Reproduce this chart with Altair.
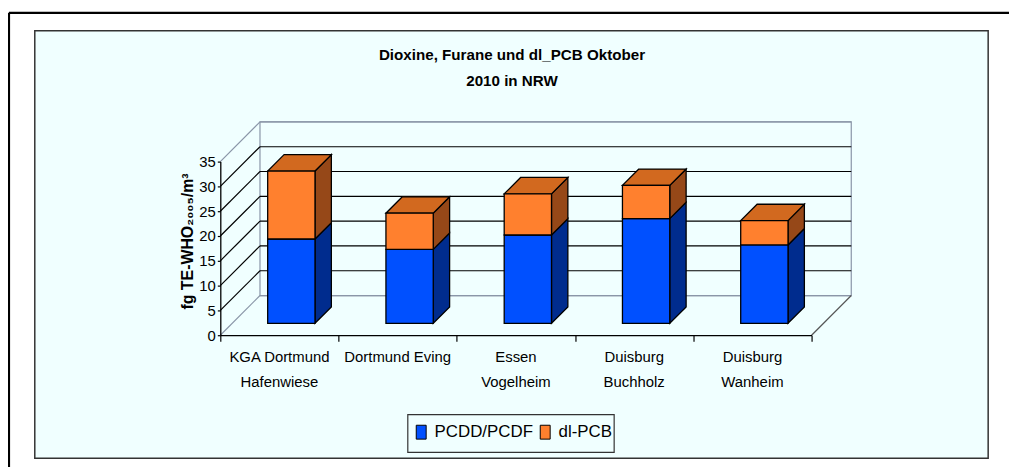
import altair as alt
import pandas as pd

# ---------------- data ----------------
stations = ["KGA Dortmund\nHafenwiese", "Dortmund Eving", "Essen\nVogelheim",
            "Duisburg\nBuchholz", "Duisburg\nWanheim"]
pcdd = [17.0, 14.9, 17.8, 21.1, 15.8]
dlpcb = [13.7, 7.3, 8.3, 6.7, 4.9]
series = ["PCDD/PCDF", "dl-PCB"]
y_ticks = [0, 5, 10, 15, 20, 25, 30, 35]
title_text = "Dioxine, Furane und dl_PCB Oktober\n2010 in NRW"
y_title = "fg TE-WHO\u2082\u2080\u2080\u2085/m\u00b3"

# ---------------- styling ----------------
front_colors = ["#0050FF", "#FF802E"]
side_colors = ["#002C8E", "#964818"]
top_colors = ["#0040C8", "#D2691F"]
BG = "#F0FFFF"
WALLGRAY = "#8A96A8"
FONT = "Liberation Sans"
PX_X = 119.2     # px per category
PX_Y = 5.0       # px per value unit
WALL = 40.0      # depth of the 3D box (px)
D1, D2 = 12.0, 28.5   # bar front / back depth (px)
BAR_W = 0.4
N = len(stations)
ymax = y_ticks[-1]

xs = alt.Scale(domain=[0, N], range=[214, 810], nice=False, zero=False)
ys = alt.Scale(domain=[0, ymax], range=[328, 153], nice=False, zero=False)
wx = WALL / PX_X
wy = WALL / PX_Y

AX_X = alt.Axis(title=None, labels=False, values=list(range(N + 1)), tickSize=6,
                tickColor="black", domainColor="black", domainWidth=1.3, tickWidth=1.2,
                grid=False, offset=-131, zindex=1)
AX_Y = alt.Axis(title=y_title, values=y_ticks, tickSize=3, tickColor="black",
                domainColor="black", domainWidth=1.3, tickWidth=1.2, grid=False,
                offset=-214, labelFont=FONT, labelFontSize=15, labelColor="black",
                labelPadding=2, titleFont=FONT, titleFontSize=16, titleFontWeight="bold",
                titleColor="black", titlePadding=3, titleY=233, zindex=1)


def X(f):
    return alt.X(f, scale=xs, axis=AX_X)


def Y(f):
    return alt.Y(f, scale=ys, axis=AX_Y)


# ---------------- derived tables ----------------
front_rows, side_rows, top_rows = [], [], []
for i, st in enumerate(stations):
    vals = [pcdd[i], dlpcb[i]]
    base = 0.0
    left = i + 0.5 - BAR_W / 2
    right = i + 0.5 + BAR_W / 2
    for k, s in enumerate(series):
        top = base + vals[k]
        front_rows.append(dict(series=s, x=left + D1 / PX_X, x2=right + D1 / PX_X,
                               y=base + D1 / PX_Y, y2=top + D1 / PX_Y))
        for d in (D1, D2):
            side_rows.append(dict(id=f"{i}-{k}", fill=side_colors[k],
                                  x=right + d / PX_X, y=base + d / PX_Y, y2=top + d / PX_Y))
        if k == len(series) - 1:
            for d in (D1, D2):
                top_rows.append(dict(id=f"{i}-{k}", fill=top_colors[k],
                                     y=top + d / PX_Y, x=left + d / PX_X, x2=right + d / PX_X))
        base = top

front_df = pd.DataFrame(front_rows)
side_df = pd.DataFrame(side_rows)
top_df = pd.DataFrame(top_rows)

grid_df = pd.DataFrame({"v": y_ticks})
grid_df["x"] = 0.0
grid_df["x2"] = wx
grid_df["yb"] = grid_df["v"] + wy
grid_df["xb"] = wx
grid_df["xb2"] = N + wx
grid_df["col"] = ["gray" if v in (0, ymax) else "black" for v in y_ticks]

wall_df = pd.DataFrame({"x": [wx], "x2": [N + wx], "y": [wy], "y2": [ymax + wy],
                        "fx": [float(N)], "fx2": [N + wx], "fy": [0.0], "fy2": [wy]})
label_df = pd.DataFrame({"station": stations, "pos": [i + 0.5 for i in range(N)]})
one = pd.DataFrame({"a": [0]})

GRAYSCALE = alt.Scale(domain=["black", "gray"], range=["black", WALLGRAY])

# ---------------- background ----------------
panel = alt.Chart(one).mark_rect(fill=BG, stroke="#333333", strokeWidth=1.5).encode(
    x=alt.value(27), x2=alt.value(988), y=alt.value(21), y2=alt.value(452))
frame_top = alt.Chart(one).mark_rule(color="black", strokeWidth=2.2).encode(
    x=alt.value(1), x2=alt.value(1012), y=alt.value(3))
frame_left = alt.Chart(one).mark_rule(color="black", strokeWidth=2.2).encode(
    x=alt.value(1), y=alt.value(3), y2=alt.value(462))
legend_box = alt.Chart(one).mark_rect(fill=BG, stroke="#333333", strokeWidth=1.2).encode(
    x=alt.value(403), x2=alt.value(611), y=alt.value(408), y2=alt.value(446))
title = alt.Chart(one).mark_text(
    text=title_text.split("\n"), font=FONT, fontSize=15.3, fontWeight="bold",
    align="center", baseline="alphabetic", lineHeight=26, color="black"
).encode(x=alt.value(508), y=alt.value(51))

# ---------------- 3D box ----------------
back_wall = alt.Chart(wall_df).mark_rect(fillOpacity=0, stroke=WALLGRAY, strokeWidth=1.2).encode(
    x=X("x:Q"), x2="x2:Q", y=Y("y:Q"), y2="y2:Q")
floor_edge = alt.Chart(wall_df).mark_rule(color="#555555", strokeWidth=1.2).encode(
    x=X("fx:Q"), x2="fx2:Q", y=Y("fy:Q"), y2="fy2:Q")
back_grid = alt.Chart(grid_df).mark_rule(strokeWidth=1.2).encode(
    x=X("xb:Q"), x2="xb2:Q", y=Y("yb:Q"),
    color=alt.Color("col:N", scale=GRAYSCALE, legend=None))
diag = alt.Chart(grid_df).mark_rule(strokeWidth=1.2).encode(
    x=X("x:Q"), x2="x2:Q", y=Y("v:Q"), y2="yb:Q",
    stroke=alt.Stroke("col:N", scale=GRAYSCALE, legend=None))

# ---------------- bars ----------------
sides = alt.Chart(side_df).mark_area(orient="vertical", stroke="black", strokeWidth=1.3,
                                     opacity=1).encode(
    x=X("x:Q"), y=Y("y:Q"), y2="y2:Q",
    fill=alt.Fill("fill:N", scale=None), detail="id:N")
tops = alt.Chart(top_df).mark_area(orient="horizontal", stroke="black", strokeWidth=1.3,
                                   opacity=1).encode(
    y=Y("y:Q"), x=X("x:Q"), x2="x2:Q",
    fill=alt.Fill("fill:N", scale=None), detail="id:N")
fronts = alt.Chart(front_df).mark_rect(stroke="black", strokeWidth=1.3).encode(
    x=X("x:Q"), x2="x2:Q", y=Y("y:Q"), y2="y2:Q",
    color=alt.Color("series:N", scale=alt.Scale(domain=series, range=front_colors),
                    legend=alt.Legend(
                        title=None, orient="none", direction="horizontal",
                        legendX=408, legendY=417, padding=0,
                        symbolType="M-1,-1.4H1V1.4H-1Z", symbolSize=100,
                        symbolStrokeColor="black", symbolStrokeWidth=1,
                        labelFont=FONT, labelFontSize=17, labelColor="black",
                        labelOffset=5, columnPadding=3, zindex=1)))

labels = alt.Chart(label_df).mark_text(
    font=FONT, fontSize=15, align="center", baseline="alphabetic", lineBreak="\n",
    lineHeight=25, color="black"
).encode(x=X("pos:Q"), y=alt.value(355), text="station:N")

chart = alt.layer(
    panel, frame_top, frame_left, legend_box, title,
    back_wall, back_grid, diag, floor_edge,
    sides, tops, fronts, labels
).properties(
    width=1009, height=459, padding=0, autosize=alt.AutoSizeParams(type="none"),
    background="white"
).configure_view(stroke=None).resolve_scale(color="independent")

chart.save("out.html", embed_options={"renderer": "svg", "actions": False})
